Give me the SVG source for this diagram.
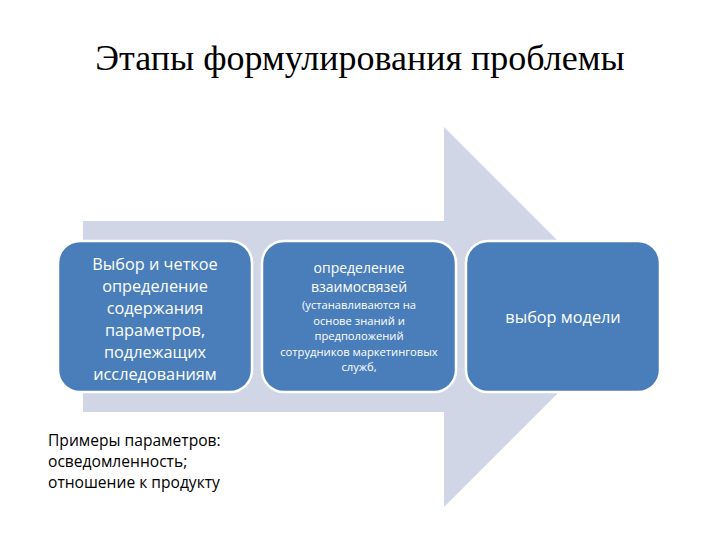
<svg xmlns="http://www.w3.org/2000/svg" width="720" height="540" viewBox="0 0 720 540">
<style>
.box{fill:#4a7ebb;stroke:#ffffff;stroke-width:2.5}
.t{font-family:"Open Sans","Liberation Sans",sans-serif;fill:#ffffff;text-anchor:middle}
.b{font-size:16.3px}
.s{font-size:14px}
.xs{font-size:11.2px}
.note{font-family:"Open Sans","Liberation Sans",sans-serif;font-size:15.6px;fill:#000000}
</style>
<rect width="720" height="540" fill="#ffffff"/>
<text x="360" y="70" font-family="'Liberation Serif',serif" font-size="36" text-anchor="middle" fill="#000000">Этапы формулирования проблемы</text>
<g id="connectors">
<polygon points="83,221 444,221 444,127 634,317 444,507 444,412 83,412" fill="#d0d6e6"/>
</g>
<g id="node1">
<rect class="box" x="58" y="241" width="194" height="151" rx="22"/>
<text class="t b"><tspan x="155" y="270">Выбор и четкое</tspan><tspan x="155" y="292">определение</tspan><tspan x="155" y="314">содержания</tspan><tspan x="155" y="336">параметров,</tspan><tspan x="155" y="358">подлежащих</tspan><tspan x="155" y="380">исследованиям</tspan></text>
</g>
<g id="node2">
<rect class="box" x="262" y="241" width="194" height="151" rx="22"/>
<text class="t s"><tspan x="359" y="273">определение</tspan><tspan x="359" y="292">взаимосвязей</tspan></text>
<text class="t xs"><tspan x="359" y="309">(устанавливаются на</tspan><tspan x="359" y="324.6">основе знаний и</tspan><tspan x="359" y="340.2">предположений</tspan><tspan x="359" y="355.8">сотрудников маркетинговых</tspan><tspan x="359" y="371.4">служб,</tspan></text>
</g>
<g id="node3">
<rect class="box" x="466" y="241" width="194" height="151" rx="22"/>
<text class="t b" x="563" y="323">выбор модели</text>
</g>
<g id="note">
<text class="note"><tspan x="48" y="446">Примеры параметров:</tspan><tspan x="48" y="467">осведомленность;</tspan><tspan x="48" y="488">отношение к продукту</tspan></text>
</g>
</svg>
